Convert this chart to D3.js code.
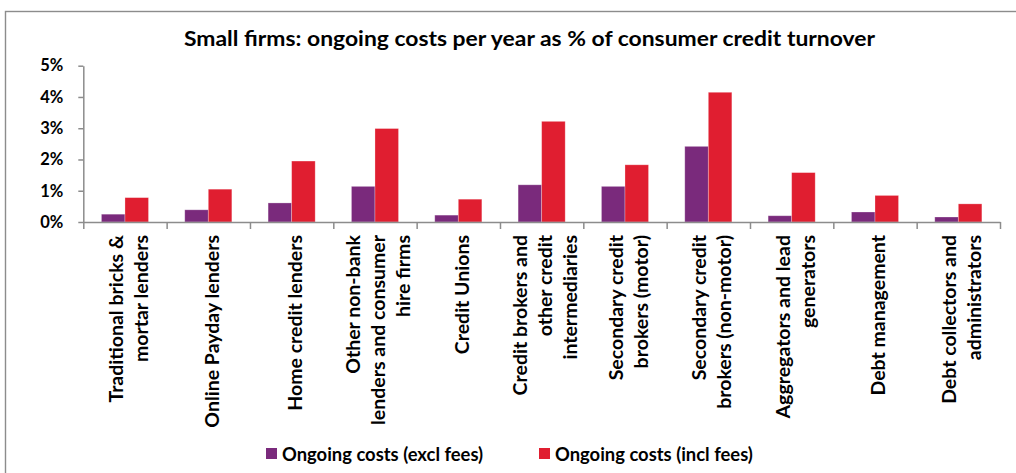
<!DOCTYPE html>
<html>
<head>
<meta charset="utf-8">
<script src="https://cdn.jsdelivr.net/npm/d3@7"></script>
<style>
  html, body { margin: 0; padding: 0; background: #fff; }
  svg { display: block; }
  text { font-family: Lato, "Open Sans", "Noto Sans", sans-serif; font-weight: 700; fill: #000; }
</style>
</head>
<body>
<svg id="chart" width="1016" height="473"></svg>
<script>
// Firm types (each entry is the wrapped label, one string per line)
const categories = [
  ["Traditional bricks &", "mortar lenders"],
  ["Online Payday lenders"],
  ["Home credit lenders"],
  ["Other non-bank", "lenders and consumer", "hire firms"],
  ["Credit Unions"],
  ["Credit brokers and", "other credit", "intermediaries"],
  ["Secondary credit", "brokers (motor)"],
  ["Secondary credit", "brokers (non-motor)"],
  ["Aggregators and lead", "generators"],
  ["Debt management"],
  ["Debt collectors and", "administrators"]
];

const seriesNames = ["Ongoing costs (excl fees)", "Ongoing costs (incl fees)"];

// Ongoing costs per year, % of consumer credit turnover
const exclFees = [0.25, 0.39, 0.61, 1.14, 0.22, 1.19, 1.14, 2.42, 0.20, 0.32, 0.16];
const inclFees = [0.78, 1.05, 1.95, 2.99, 0.73, 3.22, 1.83, 4.15, 1.58, 0.85, 0.58];

const yTicks = [0, 1, 2, 3, 4, 5];

const colors = ["#7a2a7c", "#e01e30"];
const axisColor = "#8c8c8c";

const svg = d3.select("#chart");

// Outer chart frame
svg.append("rect")
  .attr("x", 5.5).attr("y", 11.5)
  .attr("width", 1030).attr("height", 480)
  .attr("fill", "none")
  .attr("stroke", axisColor)
  .attr("stroke-width", 1.4);

// Title
svg.append("text")
  .attr("x", 529.5).attr("y", 46)
  .attr("text-anchor", "middle")
  .attr("font-size", 20.5)
  .attr("textLength", 691)
  .attr("lengthAdjust", "spacingAndGlyphs")
  .text("Small firms: ongoing costs per year as % of consumer credit turnover");

const plot = { left: 83.3, right: 1000, top: 65.7, bottom: 222 };

const x0 = d3.scaleBand()
  .domain(d3.range(categories.length))
  .range([plot.left, plot.right])
  .paddingInner(0).paddingOuter(0);

const x1 = d3.scaleBand()
  .domain([0, 1])
  .range([0, x0.bandwidth()])
  .paddingInner(0).paddingOuter(0.77);

const y = d3.scaleLinear().domain([0, 5]).range([plot.bottom, plot.top]);

// Bars
const values = [exclFees, inclFees];
const groups = svg.append("g").selectAll("g")
  .data(categories.map((c, i) => i))
  .join("g")
  .attr("transform", i => `translate(${x0(i)},0)`);

groups.selectAll("rect")
  .data(i => values.map((s, k) => ({ k, v: s[i] })))
  .join("rect")
  .attr("x", d => x1(d.k))
  .attr("y", d => y(d.v))
  .attr("width", x1.bandwidth())
  .attr("height", d => y(0) - y(d.v))
  .attr("fill", d => colors[d.k])
  .attr("stroke", "rgba(255,255,255,0.35)")
  .attr("stroke-width", 0.8);

// Y axis
const yAxis = svg.append("g")
  .attr("transform", `translate(${plot.left},0)`)
  .call(d3.axisLeft(y).tickValues(yTicks).tickFormat(d => d + "%").tickSize(5).tickSizeOuter(0).tickPadding(15));
yAxis.select(".domain").attr("stroke", axisColor).attr("stroke-width", 1.5);
yAxis.selectAll(".tick line").attr("stroke", axisColor).attr("stroke-width", 1.5);
yAxis.selectAll(".tick text")
  .attr("font-size", 16.5)
  .attr("font-family", "Lato, sans-serif")
  .attr("font-weight", 700)
  .attr("fill", "#000");

// X axis line with tick marks at category boundaries
const xBoundary = d3.scaleLinear().domain([0, categories.length]).range([plot.left, plot.right]);
const xAxis = svg.append("g")
  .attr("transform", `translate(0,${plot.bottom})`)
  .call(d3.axisBottom(xBoundary).tickValues(d3.range(categories.length + 1)).tickFormat("").tickSize(7).tickSizeOuter(0));
xAxis.select(".domain").attr("stroke", axisColor).attr("stroke-width", 1.5);
xAxis.selectAll(".tick line").attr("stroke", axisColor).attr("stroke-width", 1.5);

// Rotated category labels
const lineGap = 25;
const labels = svg.append("g").selectAll("text")
  .data(categories.map((lines, i) => ({ lines, i })))
  .join("text")
  .attr("transform", d => `translate(${x0(d.i) + x0.bandwidth() / 2 + 3},${plot.bottom + 13}) rotate(-90)`)
  .attr("text-anchor", "end")
  .attr("font-size", 19.5);

labels.selectAll("tspan")
  .data(d => d.lines.map((t, j) => ({ t, off: (j - (d.lines.length - 1) / 2) * lineGap })))
  .join("tspan")
  .attr("x", 0)
  .attr("y", d => d.off)
  .attr("dominant-baseline", "central")
  .text(d => d.t);

// Legend
const legendPos = [266, 539];
const legend = svg.append("g").selectAll("g")
  .data(seriesNames.map((name, k) => ({ name, k })))
  .join("g")
  .attr("transform", d => `translate(${legendPos[d.k]},448)`);
legend.append("rect")
  .attr("width", 11).attr("height", 11)
  .attr("fill", d => colors[d.k]);
legend.append("text")
  .attr("x", 16).attr("y", 12.7)
  .attr("font-size", 18.4)
  .text(d => d.name);
</script>
</body>
</html>
